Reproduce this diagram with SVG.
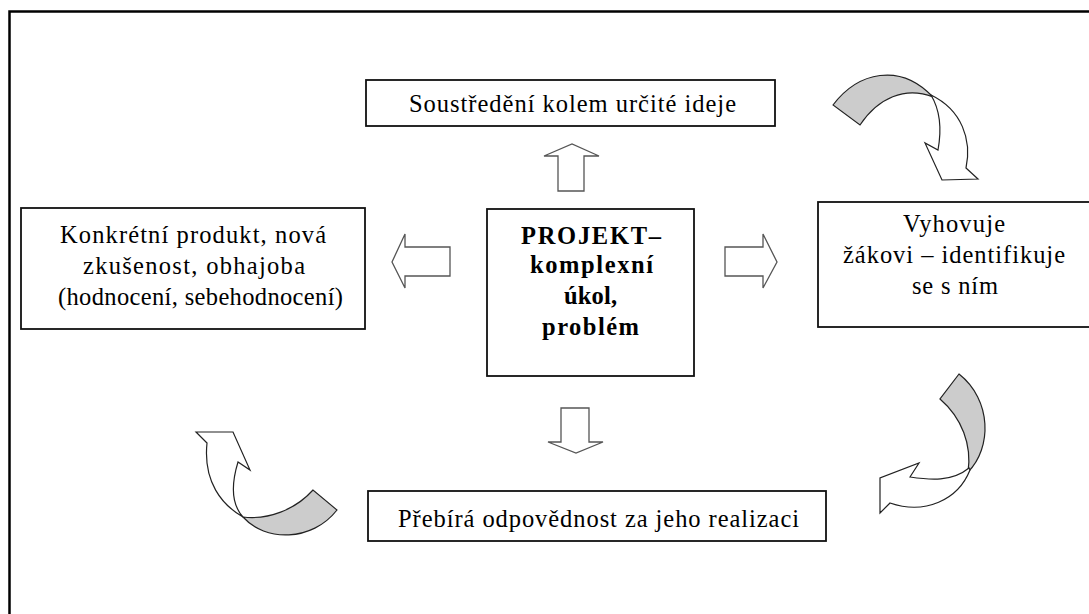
<svg xmlns="http://www.w3.org/2000/svg" width="1089" height="614" viewBox="0 0 1089 614">
<style>
.box{fill:#fff;stroke:#111;stroke-width:1.8}
.t{font-family:"Liberation Serif","Times New Roman",serif;font-size:24.5px;fill:#000;text-anchor:middle}
.b{font-weight:bold}
.blk{fill:#fff;stroke:#555;stroke-width:1.3;stroke-linejoin:miter}
.cw{fill:#fff;stroke:#222;stroke-width:1.2}
.cg{fill:#cccccc;stroke:#222;stroke-width:1.2}
</style>
<rect x="0" y="0" width="1089" height="614" fill="#fff"/>
<path d="M9.5,620 V11.5 H1095" fill="none" stroke="#000" stroke-width="2.5"/>
<g id="connectors">
<polygon class="blk" points="558,191 584,191 584,156 599,156 572,144 544,156 558,156"/>
<polygon class="blk" points="450,247 450,276 405,276 405,288 392,262 405,234 405,247"/>
<polygon class="blk" points="725,247 725,276 763,276 763,288 777,262 763,234 763,247"/>
<polygon class="blk" points="561,408 589,408 589,442 603,442 576,453 548,442 561,442"/>
<g id="curve-tr">
<path class="cg" d="M833,105 C858,72 900,62 933,97 C905,86 878,98 860,125 Z"/>
<path class="cw" d="M931,95 C962,110 972,140 966,168 L978,179 L942,180 L925,143 L938,150 C942,128 940,110 931,95 Z"/>
</g>
<g id="curve-br">
<path class="cg" d="M959,374 C992,400 992,448 968,472 C972,445 962,418 940,399 Z"/>
<path class="cw" d="M969,468 C952,482 930,480 910,477 L919,463 L880,478 L880,513 L890,503 C925,515 958,500 970,470 Z"/>
</g>
<g id="curve-bl">
<path class="cg" d="M243,517 C265,542 312,542 337,510 L313,490 C295,510 268,520 243,517 Z"/>
<path class="cw" d="M243,517 C222,505 203,482 207,443 L196,432 L233,432 L250,470 L238,462 C231,485 232,505 243,517 Z"/>
</g>
</g>
<g id="node-top">
<rect class="box" x="366" y="80" width="409" height="46"/>
<text class="t" x="572.5" y="112" textLength="327" lengthAdjust="spacing">Soustředění kolem určité ideje</text>
</g>
<g id="node-left">
<rect class="box" x="21" y="208" width="344" height="121"/>
<text class="t" x="193" y="243" textLength="266" lengthAdjust="spacing">Konkrétní produkt, nová</text>
<text class="t" x="194" y="274" textLength="222" lengthAdjust="spacing">zkušenost, obhajoba</text>
<text class="t" x="200.5" y="305" textLength="285" lengthAdjust="spacing">(hodnocení, sebehodnocení)</text>
</g>
<g id="node-center">
<rect class="box" x="487" y="209" width="207" height="167"/>
<text class="t b" x="591" y="244" textLength="140" lengthAdjust="spacing">PROJEKT–</text>
<text class="t b" x="591.5" y="273" textLength="123" lengthAdjust="spacing">komplexní</text>
<text class="t b" x="590.5" y="304" textLength="53" lengthAdjust="spacing">úkol,</text>
<text class="t b" x="590.5" y="335" textLength="97" lengthAdjust="spacing">problém</text>
</g>
<g id="node-right">
<rect class="box" x="818" y="202" width="290" height="125"/>
<text class="t" x="954" y="232" textLength="102" lengthAdjust="spacing">Vyhovuje</text>
<text class="t" x="954" y="263" textLength="222" lengthAdjust="spacing">žákovi – identifikuje</text>
<text class="t" x="955" y="294" textLength="86" lengthAdjust="spacing">se s ním</text>
</g>
<g id="node-bottom">
<rect class="box" x="368" y="491" width="458" height="50"/>
<text class="t" x="598.5" y="527" textLength="401" lengthAdjust="spacing">Přebírá odpovědnost za jeho realizaci</text>
</g>
</svg>
